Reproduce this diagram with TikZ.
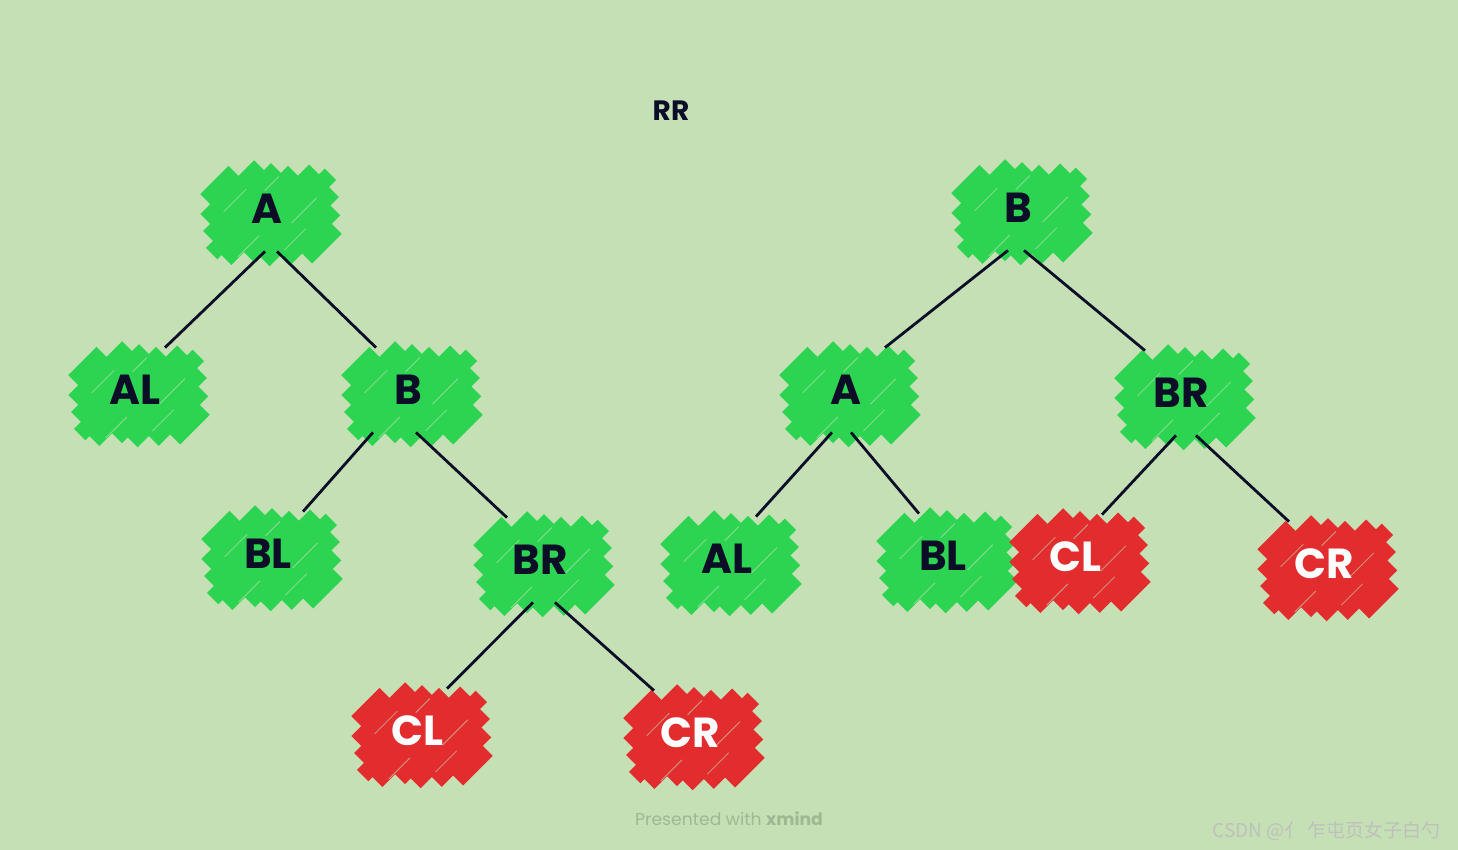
\documentclass[tikz,border=0pt]{standalone}
\usepackage{fontspec}
\setmainfont{Poppins}
\newfontfamily\cjkfont{Noto Sans CJK SC}
\usetikzlibrary{calc,backgrounds}

\definecolor{paper}{RGB}{197,224,181}
\definecolor{leafgreen}{RGB}{44,212,82}
\definecolor{hotred}{RGB}{226,44,46}
\definecolor{ink}{RGB}{12,14,40}
\definecolor{footgray}{RGB}{158,184,148}
\definecolor{markgray}{RGB}{190,192,188}

% hatched blob behind a node: #1 node name, #2 colour
\newcommand{\scribble}[2]{%
  \begin{scope}[shift={($(#1)+(4,5)$)}, rotate=45]
    \foreach \s/\ta/\tb in {-56/-36/4, -42/-50/26, -28/-60/36, -14/-70/46, 0/-64/62,
                            14/-46/70, 28/-38/60, 42/-22/48, 56/-6/36}
      \draw[#2, line width=8pt] (\ta,\s) -- (\tb,\s);
    \foreach \s/\ta/\tb in {-35/-32/0, -21/12/32, 7/-54/-24, 21/8/44, 35/-16/14}
      \draw[paper!55!#2, line width=0.5pt] (\ta,\s) -- (\tb,\s);
  \end{scope}}

\begin{document}
\begin{tikzpicture}[
    x=0.5pt, y=-0.5pt,
    tn/.style={minimum height=42pt, inner sep=0pt, text=ink,
               font=\fontsize{21pt}{21pt}\selectfont\bfseries},
    redtn/.style={tn, text=white},
    edge/.style={draw=ink, line width=1.4pt},
    title/.style={text=ink, font=\fontsize{14pt}{14pt}\selectfont\bfseries}
]
\useasboundingbox (0,0) rectangle (1458,850);

% left tree
\node[tn] (lA) at (267,209) {A};
\node[tn] (lAL) at (135,390) {AL};
\node[tn] (lB) at (408,390) {B};
\node[tn] (lBL) at (268,554) {BL};
\node[tn] (lBR) at (540,560) {BR};
\node[redtn] (lCL) at (418,731) {CL};
\node[redtn] (lCR) at (690,733) {CR};

% right tree
\node[tn] (rB) at (1018,208) {B};
\node[tn] (rA) at (846,390) {A};
\node[tn] (rBR) at (1181,393) {BR};
\node[tn] (rAL) at (727,559) {AL};
\node[tn] (rBL) at (943,556) {BL};
\node[redtn] (rCL) at (1076,557) {CL};
\node[redtn] (rCR) at (1324,564) {CR};

\node[title] (ttl) at (671,111) {RR};
\node[text=footgray, font=\fontsize{8.6pt}{9pt}\selectfont] (foot) at (729,819)
  {Presented with \textbf{xmind}};
\node[text=markgray, font=\cjkfont\fontsize{9.5pt}{10pt}\selectfont, anchor=east] (mark)
  at (1448,831) {CSDN @亻 乍屯页女子白勺};

\begin{scope}[on background layer]
  \fill[paper] (0,0) rectangle (1458,850);
  \foreach \n in {lA,lAL,lB,lBL,lBR,rB,rA,rBR,rAL,rBL}
    \scribble{\n}{leafgreen};
  \foreach \n in {lCL,lCR,rCL,rCR}
    \scribble{\n}{hotred};
\end{scope}

\draw[edge] ($(lA.south)+(-2,0)$) -- ($(lAL.north)+(30,0)$);
\draw[edge] ($(lA.south)+(10,0)$) -- ($(lB.north)+(-32,0)$);
\draw[edge] ($(lB.south)+(-35,0)$) -- ($(lBL.north)+(35,0)$);
\draw[edge] ($(lB.south)+(8,0)$) -- ($(lBR.north)+(-33,0)$);
\draw[edge] ($(lBR.south)+(-7,0)$) -- ($(lCL.north)+(29,0)$);
\draw[edge] ($(lBR.south)+(15,0)$) -- ($(lCR.north)+(-36,0)$);

\draw[edge] ($(rB.south)+(-10,0)$) -- ($(rA.north)+(39,0)$);
\draw[edge] ($(rB.south)+(6,0)$) -- ($(rBR.north)+(-36,0)$);
\draw[edge] ($(rA.south)+(-14,0)$) -- ($(rAL.north)+(29,0)$);
\draw[edge] ($(rA.south)+(5,0)$) -- ($(rBL.north)+(-24,0)$);
\draw[edge] ($(rBR.south)+(-5,0)$) -- ($(rCL.north)+(26,0)$);
\draw[edge] ($(rBR.south)+(15,0)$) -- ($(rCR.north)+(-35,0)$);
\end{tikzpicture}
\end{document}
